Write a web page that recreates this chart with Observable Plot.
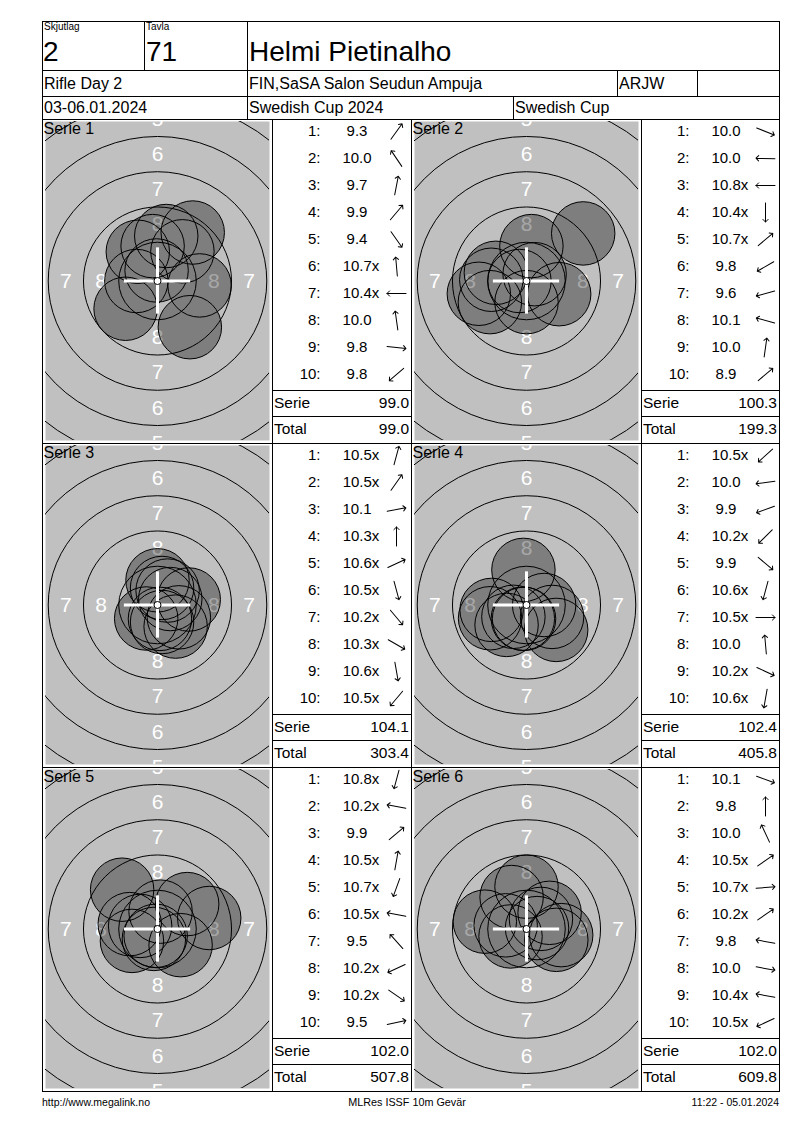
<!DOCTYPE html>
<html>
<head>
<meta charset="utf-8">
<script src="https://cdn.jsdelivr.net/npm/d3@7"></script>
<script src="https://cdn.jsdelivr.net/npm/@observablehq/plot@0.6"></script>
<style>
  body { margin: 0; background: #fff; font-family: "Liberation Sans", Arial, Helvetica, sans-serif; color: #000; }
  #page { position: relative; width: 800px; height: 1130px; overflow: hidden; background: #fff; }
  .t { position: absolute; white-space: nowrap; line-height: 1; }
  .h { position: absolute; height: 1px; background: #000; }
  .v { position: absolute; width: 1px; background: #000; }
  #page svg { position: absolute; overflow: hidden; }
</style>
</head>
<body>
<div id="page"></div>
<script>
// ---------------- data ----------------
const headerLabels = ["Skjutlag", "Tavla"];
const headerValues = ["2", "71"];
const shooterName = "Helmi Pietinalho";
const infoRow2 = ["Rifle Day 2", "FIN,SaSA Salon Seudun Ampuja", "ARJW", ""];
const infoRow3 = ["03-06.01.2024", "Swedish Cup 2024", "Swedish Cup"];
const footerTexts = ["http://www.megalink.no", "MLRes ISSF 10m Gevär", "11:22 - 05.01.2024"];

const seriesLabels = ["Serie 1", "Serie 2", "Serie 3", "Serie 4", "Serie 5", "Serie 6"];

// shot values (x = inner ten) and shot direction (degrees clockwise from 12 o'clock)
const shots1 = ["9.3", "10.0", "9.7", "9.9", "9.4", "10.7x", "10.4x", "10.0", "9.8", "9.8"];
const dir1   = [36, 326, 11, 40, 145, 355, 270, 352, 96, 229];
const shots2 = ["10.0", "10.0", "10.8x", "10.4x", "10.7x", "9.8", "9.6", "10.1", "10.0", "8.9"];
const dir2   = [112, 272, 270, 180, 50, 240, 255, 285, 8, 50];
const shots3 = ["10.5x", "10.5x", "10.1", "10.3x", "10.6x", "10.5x", "10.2x", "10.3x", "10.6x", "10.5x"];
const dir3   = [15, 35, 80, 0, 65, 165, 140, 120, 170, 220];
const shots4 = ["10.5x", "10.0", "9.9", "10.2x", "9.9", "10.6x", "10.5x", "10.0", "10.2x", "10.6x"];
const dir4   = [228, 262, 250, 225, 130, 195, 90, 355, 115, 190];
const shots5 = ["10.8x", "10.2x", "9.9", "10.5x", "10.7x", "10.5x", "9.5", "10.2x", "10.2x", "9.5"];
const dir5   = [195, 280, 50, 10, 200, 280, 318, 245, 125, 78];
const shots6 = ["10.1", "9.8", "10.0", "10.5x", "10.7x", "10.2x", "9.8", "10.0", "10.4x", "10.5x"];
const dir6   = [110, 0, 335, 55, 85, 55, 280, 100, 280, 245];

const serieSums = ["99.0", "100.3", "104.1", "102.4", "102.0", "102.0"];
const totals    = ["99.0", "199.3", "303.4", "405.8", "507.8", "609.8"];
const sumLabels = ["Serie", "Total"];

// ISSF 10m air rifle target geometry (mm)
const ringNumbers = [10, 9, 8, 7, 6, 5, 4];            // ring circles drawn
const ringLabels  = [8, 7, 6, 5];                       // printed numbers
const pelletRadius = 2.25;
const crossHalf = 2.35;

// ---------------- helpers ----------------
const FONT = "'Liberation Sans', Arial, Helvetica, sans-serif";
const K = 14.1; // px per mm on the target drawings
const SHOT_FILL = "#000001";
const page = document.getElementById("page");
const ringRadius = n => 0.25 + (10 - n) * 2.5;

function hline(x1, x2, y) {
  const e = document.createElement("div");
  e.className = "h";
  e.style.left = x1 + "px"; e.style.top = y + "px"; e.style.width = (x2 - x1 + 1) + "px";
  page.appendChild(e);
}
function vline(x, y1, y2) {
  const e = document.createElement("div");
  e.className = "v";
  e.style.left = x + "px"; e.style.top = y1 + "px"; e.style.height = (y2 - y1 + 1) + "px";
  page.appendChild(e);
}
function txt(s, x, yc, size, align = "left") {
  const e = document.createElement("div");
  e.className = "t";
  e.textContent = s;
  e.style.fontSize = size + "px";
  e.style.top = (yc - 0.49 * size) + "px";
  if (align === "left") e.style.left = x + "px";
  else if (align === "right") e.style.right = (800 - x) + "px";
  else { e.style.left = x + "px"; e.style.transform = "translateX(-50%)"; }
  page.appendChild(e);
}
function place(svg, x, y) {
  svg.style.left = x + "px"; svg.style.top = y + "px";
  page.appendChild(svg);
}

// ---------------- target drawing ----------------
function targetPlot(label, sc, dir, W, H) {
  const mL = 2, mT = 1, mR = 3, mB = 3;
  const hx = (W - mL - mR) / 2 / K, hy = (H - mT - mB) / 2 / K;
  const shots = sc.map((s, j) => {
    const d = (11 - parseFloat(s)) * 2.5;
    const a = dir[j] * Math.PI / 180;
    return {x: d * Math.sin(a), y: d * Math.cos(a)};
  });
  const labels = [];
  ringLabels.forEach(v => {
    const d = (ringRadius(v) + ringRadius(v + 1)) / 2;
    labels.push({v, x: 0, y: d}, {v, x: 0, y: -d}, {v, x: d, y: 0}, {v, x: -d, y: 0});
  });
  const c = [{x: 0, y: 0}];
  const svg = Plot.plot({
    width: W, height: H,
    marginLeft: mL, marginTop: mT, marginRight: mR, marginBottom: mB,
    x: {domain: [-hx, hx], axis: null},
    y: {domain: [-hy, hy], axis: null},
    style: {fontFamily: FONT, background: "white"},
    marks: [
      Plot.frame({fill: "#c0c0c0"}),
      ...ringNumbers.filter(n => n < 10).map(n =>
        Plot.dot(c, {x: "x", y: "y", r: ringRadius(n) * K, stroke: "black", strokeWidth: 1, clip: true})),
      Plot.text(labels, {x: "x", y: "y", text: "v", fill: "white", fontSize: 21, textAnchor: "middle", lineAnchor: "middle", clip: true}),
      Plot.dot(shots, {x: "x", y: "y", r: pelletRadius * K, fill: SHOT_FILL, clip: true, ariaLabel: "shotfill"}),
      Plot.dot(shots, {x: "x", y: "y", r: pelletRadius * K, stroke: "black", strokeWidth: 1, clip: true}),
      Plot.ruleX([0], {y1: -crossHalf, y2: crossHalf, stroke: "white", strokeWidth: 3}),
      Plot.ruleY([0], {x1: -crossHalf, x2: crossHalf, stroke: "white", strokeWidth: 3}),
      Plot.dot(c, {x: "x", y: "y", r: ringRadius(10) * K, fill: "white", stroke: "black", strokeWidth: 1}),
      Plot.text([label], {frameAnchor: "top-left", textAnchor: "start", lineAnchor: "top", fontSize: 16, fill: "black", dx: -2, dy: 1})
    ]
  });
  // shots as one translucent layer, so overlaps keep a single tone
  const groups = new Set();
  svg.querySelectorAll('[aria-label="shotfill"]').forEach(el => groups.add(el.tagName.toLowerCase() === "g" ? el : el.parentNode));
  svg.querySelectorAll('[fill="' + SHOT_FILL + '"]').forEach(el => groups.add(el.tagName.toLowerCase() === "g" ? el : el.parentNode));
  groups.forEach(g => { if (g && g !== svg) g.setAttribute("opacity", 0.34); });
  return svg;
}

// ---------------- score list ----------------
function scorePlot(sc, dir, W) {
  const rows = sc.map((s, j) => ({n: j + 1, s, hasX: s.endsWith("x"), a: dir[j]}));
  return Plot.plot({
    width: W, height: 269,
    marginLeft: 0, marginRight: 0, marginTop: 0, marginBottom: 0,
    y: {type: "point", domain: rows.map(d => d.n), range: [10.5, 253.5], padding: 0, axis: null},
    style: {fontFamily: FONT, background: "white"},
    marks: [
      Plot.text(rows, {y: "n", text: d => d.n + ":", frameAnchor: "left", textAnchor: "end", dx: 47, fontSize: 15, fill: "black"}),
      Plot.text(rows, {filter: d => !d.hasX, y: "n", text: "s", frameAnchor: "left", textAnchor: "middle", dx: 83.5, fontSize: 15, fill: "black"}),
      Plot.text(rows, {filter: d => d.hasX, y: "n", text: "s", frameAnchor: "left", textAnchor: "middle", dx: 87.5, fontSize: 15, fill: "black"}),
      Plot.vector(rows, {y: "n", frameAnchor: "left", dx: 123, rotate: "a", length: 19, anchor: "middle", r: 2.4, stroke: "black", strokeWidth: 1})
    ]
  });
}

// ---------------- layout ----------------
const L = 42, R = 779;
// header
hline(L, R, 21); hline(L, R, 70); hline(L, R, 96);
vline(L, 21, 1091); vline(R, 21, 1091);
vline(144, 21, 70); vline(247, 21, 119);
vline(617, 70, 96); vline(697, 70, 96); vline(513, 96, 119);
txt(headerLabels[0], 44, 27, 10);
txt(headerLabels[1], 146, 27, 10);
txt(headerValues[0], 43, 52, 28);
txt(headerValues[1], 146, 52, 28);
txt(shooterName, 249, 52, 28);
txt(infoRow2[0], 44, 84, 16);
txt(infoRow2[1], 249, 84, 16);
txt(infoRow2[2], 619, 84, 16);
txt(infoRow2[3], 699, 84, 16);
txt(infoRow3[0], 44, 108, 16);
txt(infoRow3[1], 249, 108, 16);
txt(infoRow3[2], 515, 108, 16);

// series grid
const cols = [42, 272, 411, 641, 779];
const rowsY = [119, 443, 767, 1091];
rowsY.forEach(y => hline(L, R, y));
[272, 411, 641].forEach(x => vline(x, 119, 1091));

const allShots = [shots1, shots2, shots3, shots4, shots5, shots6];
const allDirs = [dir1, dir2, dir3, dir4, dir5, dir6];

for (let i = 0; i < 6; i++) {
  const r = Math.floor(i / 2), side = i % 2;
  const top = rowsY[r], bottom = rowsY[r + 1];
  const tL = cols[side * 2], tR = cols[side * 2 + 1], sR = cols[side * 2 + 2];
  const tW = tR - tL - 1, tH = bottom - top - 1;
  place(targetPlot(seriesLabels[i], allShots[i], allDirs[i], tW, tH), tL + 1, top + 1);
  place(scorePlot(allShots[i], allDirs[i], sR - tR - 1), tR + 1, top + 1);
  hline(tR, sR, top + 271);
  hline(tR, sR, top + 297);
  txt(sumLabels[0], tR + 2, top + 284, 15.5);
  txt(serieSums[i], sR - 2, top + 284, 15.5, "right");
  txt(sumLabels[1], tR + 2, top + 310, 15.5);
  txt(totals[i], sR - 2, top + 310, 15.5, "right");
}

// footer
txt(footerTexts[0], 42, 1102, 10.5);
txt(footerTexts[1], 407, 1102, 10.8, "center");
txt(footerTexts[2], 779, 1102, 10.5, "right");
</script>
</body>
</html>
